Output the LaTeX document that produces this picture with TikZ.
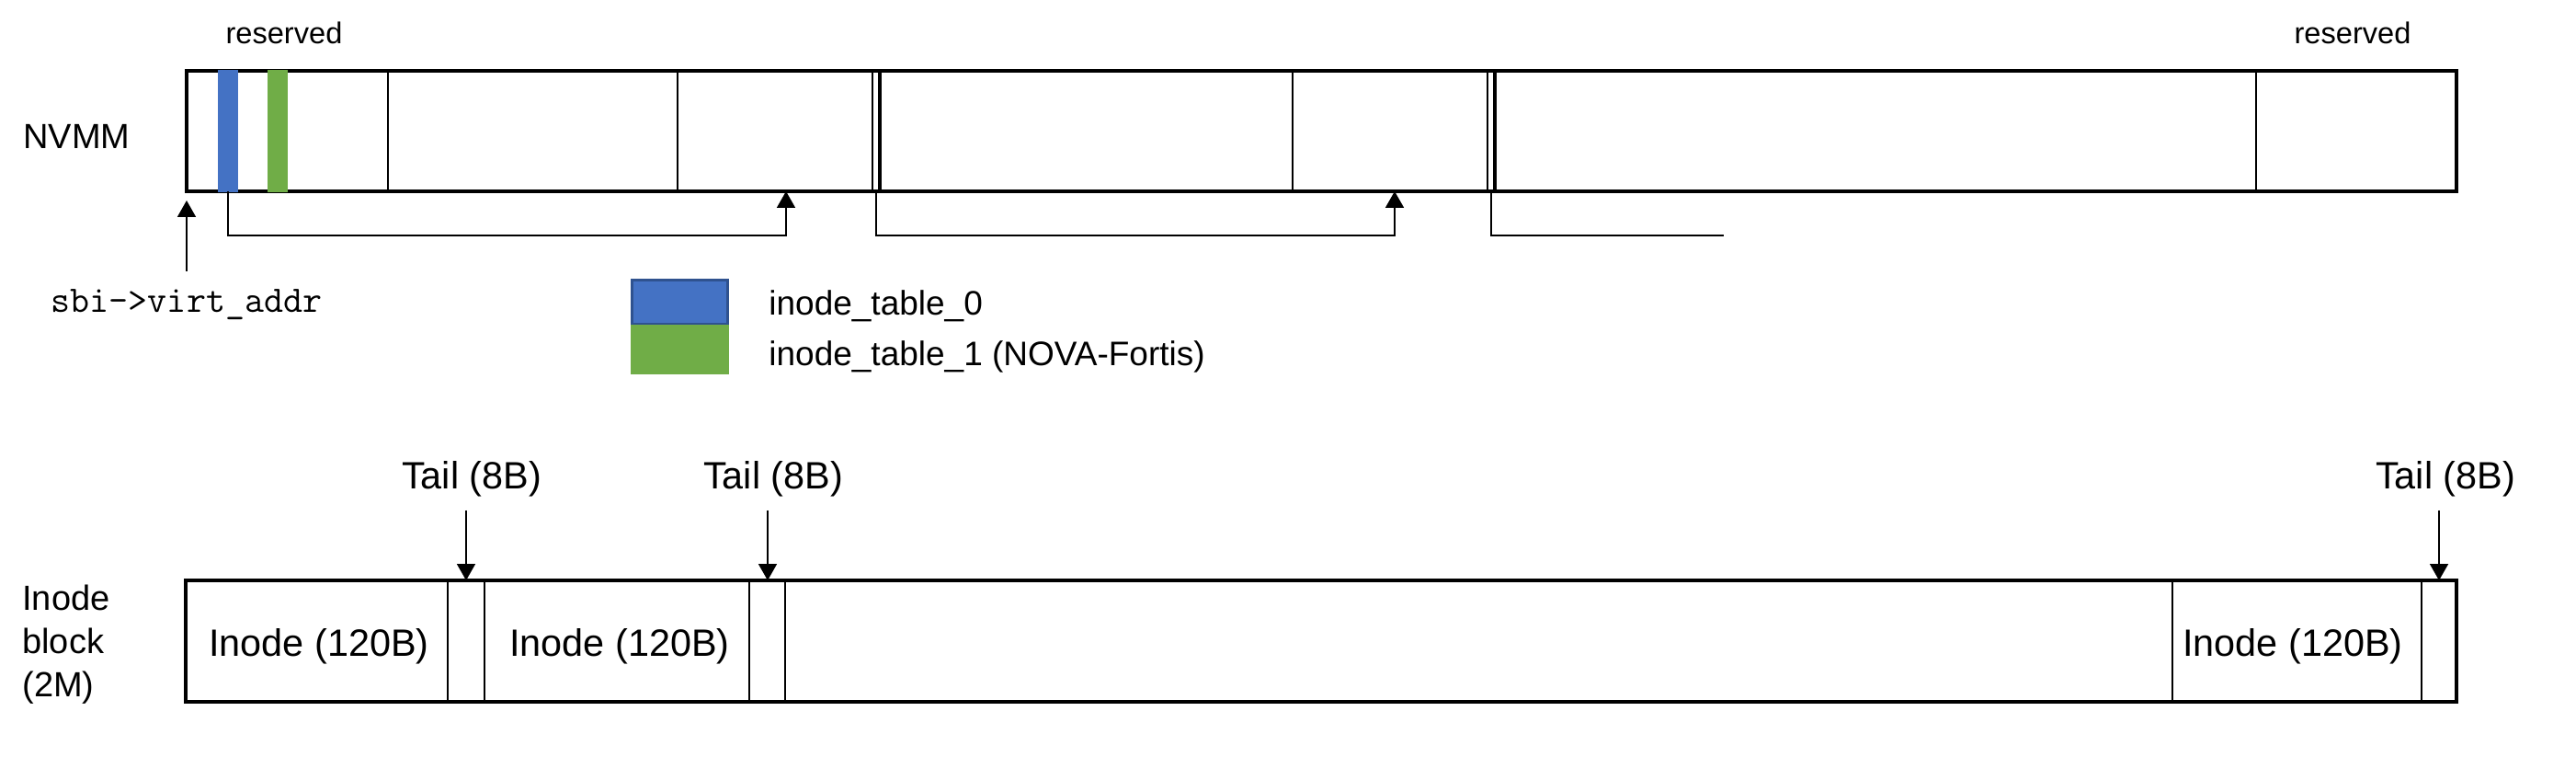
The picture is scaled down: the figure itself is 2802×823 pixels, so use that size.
\documentclass[tikz,border=0pt]{standalone}
\usepackage{fontspec}
\setmainfont{Liberation Sans}
\usepackage{tikz}
\usetikzlibrary{arrows.meta}
\definecolor{tableblue}{HTML}{4472C4}
\definecolor{tableedge}{HTML}{2F528F}
\definecolor{tablegreen}{HTML}{70AD47}
\tikzset{
	frame/.style={line width=1.6pt},
	cell/.style={line width=1.1pt},
	link/.style={line width=0.9pt},
	ptr/.style={line width=0.9pt, -{Triangle[length=9pt,width=10pt]}},
	lbl/.style={inner sep=0pt},
	big/.style={lbl, font=\fontsize{20.7}{25}\selectfont},
	mid/.style={lbl, font=\fontsize{19}{23.5}\selectfont},
	small/.style={lbl, font=\fontsize{16.3}{20}\selectfont},
}

\begin{document}
\begin{tikzpicture}[x=0.5pt, y=-0.5pt]
	\useasboundingbox (0,0) rectangle (2802,823);
	
	% NVMM
	\node (nvmm) [mid, anchor=base west] at (25,162) {NVMM};
	\draw [frame] (203,77) rectangle (2672,208);
	\foreach \x in {422,737,949,1406,1618,2454} {
		\draw [cell] (\x,77) -- (\x,208);
	}
	\foreach \x in {957,1626} {
		\draw [frame] (\x,77) -- (\x,208);
	}
	\fill [tableblue] (237,76) rectangle (259,209);
	\fill [tablegreen] (291,76) rectangle (313,209);
	\node (res0) [small, anchor=base] at (309,48) {reserved};
	\node (res1) [small, anchor=base] at (2559,48) {reserved};
	
	% start address
	\coordinate (virt) at (203,218);
	\node (sbi) [lbl, anchor=base, font=\fontsize{20.4}{24}\ttfamily] at (203,340) {sbi->virt\_addr};
	\draw [ptr, shorten <=10pt] (sbi.north) -- (virt);
	
	% next pointers
	\coordinate (from0) at (248,208);
	\coordinate (to0) at (855,208);
	\coordinate (from1) at (953,208);
	\coordinate (to1) at (1517,208);
	\coordinate (from2) at (1622,208);
	\coordinate (to2) at (1875,256);
	\draw [ptr] (from0) -- ++(0,48) -| (to0);
	\draw [ptr] (from1) -- ++(0,48) -| (to1);
	\draw [link] (from2) |- (to2);
	
	% legend
	\node (key0) [draw=tableedge, fill=tableblue, line width=1.2pt, minimum width=52pt, minimum height=24pt, inner sep=0pt] at (739.5,328.5) {};
	\node (key1) [fill=tablegreen, minimum width=53.5pt, minimum height=27pt, inner sep=0pt] at (739.5,380) {};
	\node (txt0) [mid, anchor=base west, font=\fontsize{18.5}{22}\selectfont] at (836,343) {inode\_table\_0};
	\node (txt1) [mid, anchor=base west, font=\fontsize{18.5}{22}\selectfont] at (836,398) {inode\_table\_1 (NOVA-Fortis)};
	
	% inode block
	\node (blk) [mid, anchor=north west, align=left] at (24,636) {Inode\\block\\(2M)};
	\draw [frame] (202,631) rectangle (2672,763);
	\foreach \x in {487,527,815,854,2363,2634} {
		\draw [cell] (\x,631) -- (\x,763);
	}
	\foreach \x/\n in {347/0,674/1,2494/2} {
		\node (inode\n) [big, anchor=base] at (\x,713) {Inode (120B)};
	}
	
	% tails
	\foreach \x/\t/\n in {513/507/0,841/835/1,2660/2653/2} {
		\node (tail\n) [big, anchor=base] at (\x,532) {Tail (8B)};
		\coordinate (slot\n) at (\t,631);
		\draw [ptr, shorten <=7pt] (tail\n.south -| slot\n) -- (slot\n);
	}
\end{tikzpicture}
\end{document}
